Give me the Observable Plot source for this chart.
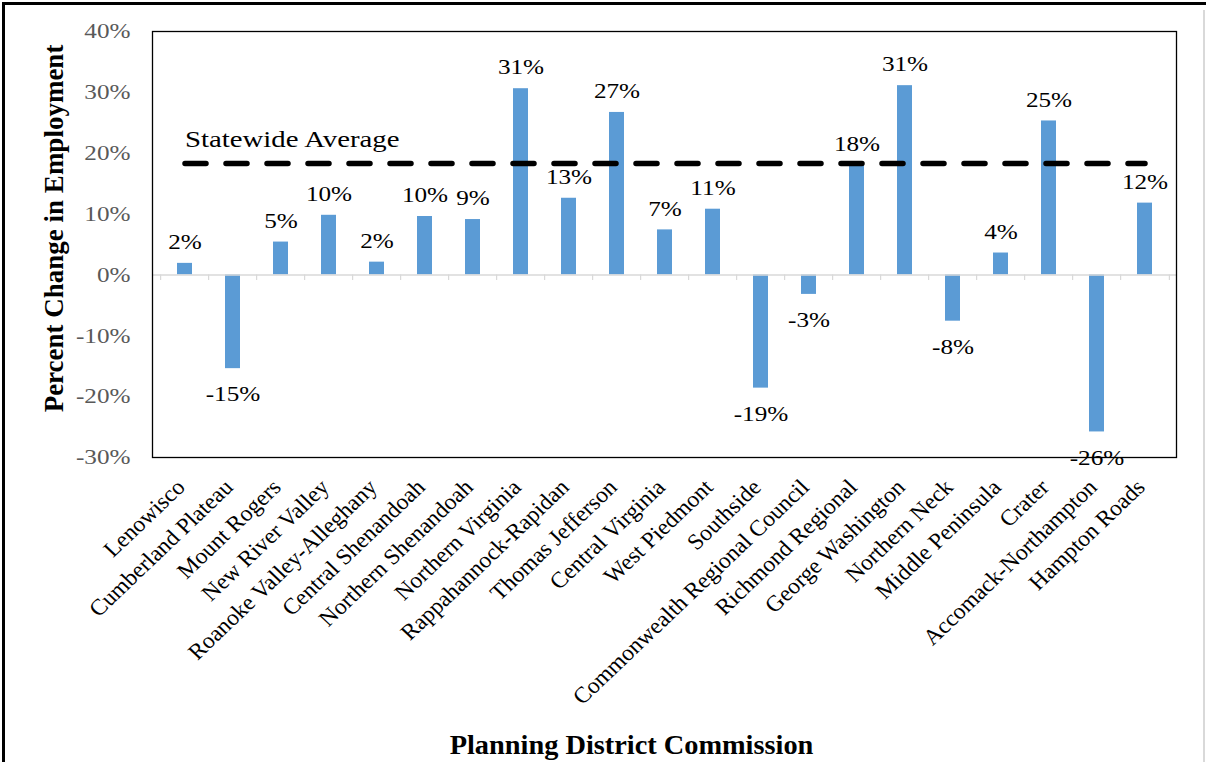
<!DOCTYPE html>
<html>
<head>
<meta charset="utf-8">
<script src="https://cdn.jsdelivr.net/npm/d3@7"></script>
<script src="https://cdn.jsdelivr.net/npm/@observablehq/plot@0.6"></script>
<style>
  html, body { margin: 0; padding: 0; background: #fff; }
  #wrap { position: relative; width: 1207px; height: 762px; overflow: hidden; }
  #border { position: absolute; left: 2px; top: 2px; width: 1201px; height: 800px; border-left: 3px solid #000; border-top: 3px solid #000; pointer-events: none; }
  #grid { position: absolute; left: 1203px; top: 10px; width: 2px; height: 760px; background: #d9d9d9; pointer-events: none; }
  #chart svg, #chart svg text, #chart svg g { font-family: "Liberation Serif", "DejaVu Serif", serif !important; }
</style>
</head>
<body>
<div id="wrap"><div id="chart"></div><div id="border"></div><div id="grid"></div></div>
<script>
const districts = ["Lenowisco","Cumberland Plateau","Mount Rogers","New River Valley","Roanoke Valley-Alleghany","Central Shenandoah","Northern Shenandoah","Northern Virginia","Rappahannock-Rapidan","Thomas Jefferson","Central Virginia","West Piedmont","Southside","Commonwealth Regional Council","Richmond Regional","George Washington","Northern Neck","Middle Peninsula","Crater","Accomack-Northampton","Hampton Roads"];
const changes = [1.9, -15.4, 5.4, 9.8, 2.1, 9.6, 9.1, 30.6, 12.6, 26.7, 7.4, 10.8, -18.6, -3.2, 18.1, 31.1, -7.6, 3.6, 25.3, -25.8, 11.8];
const statewideAverage = 18.3;
const yTicks = [-30, -20, -10, 0, 10, 20, 30, 40];

const data = districts.map((d, i) => ({district: d, value: changes[i]}));
const pos = data.filter(d => d.value >= 0);
const neg = data.filter(d => d.value < 0);
const lbl = d => Math.round(d.value) + "%";
const step = (1176 - 152) / districts.length;

const chart = Plot.plot({
  width: 1207,
  height: 762,
  marginLeft: 152,
  marginRight: 31,
  marginTop: 31,
  marginBottom: 305,
  style: {background: "transparent"},
  x: {type: "band", domain: districts, paddingInner: 0.69, paddingOuter: 0.345, align: 0.5},
  y: {domain: [-30, 40]},
  marks: [
    Plot.barY(data, {x: "district", y: "value", fill: "#5b9bd5"}),
    Plot.ruleY([0], {stroke: "#d9d9d9", strokeWidth: 1.5}),
    Plot.ruleX(districts, {x: d => d, y1: 0, y2: -0.9, dx: -step / 2, stroke: "#d9d9d9", strokeWidth: 1.2}),
    Plot.ruleX([districts[districts.length - 1]], {x: d => d, y1: 0, y2: -0.9, dx: step / 2, stroke: "#d9d9d9", strokeWidth: 1.2}),
    Plot.lineY(districts, {x: d => d, y: () => statewideAverage, stroke: "#000", strokeWidth: 5.5, strokeDasharray: "21,20"}),
    Plot.text([districts[0]], {x: d => d, y: () => statewideAverage, text: () => "Statewide Average", textAnchor: "start", dy: -24, fontSize: 24, fill: "#000", className: "stretch12"}),
    Plot.text(pos, {x: "district", y: "value", text: lbl, dy: -21, fontSize: 21, fill: "#000", className: "stretch12"}),
    Plot.text(neg, {x: "district", y: "value", text: lbl, dy: 26, fontSize: 21, fill: "#000", className: "stretch12"}),
    Plot.frame({stroke: "#000", strokeWidth: 1.3}),
    Plot.axisY({ticks: yTicks, tickFormat: d => d + "%", tickSize: 0, tickPadding: 22, label: null, fontSize: 21, color: "#595959", className: "stretch12"}),
    Plot.axisX({tickSize: 0, tickPadding: 16, tickRotate: -45, label: null, fontSize: 22.5, color: "#000", dx: -4, dy: 10, className: "stretch105"}),
    Plot.text(["Percent Change in Employment"], {frameAnchor: "left", textAnchor: "middle", rotate: -90, dx: -98, dy: -16, fontSize: 27, fontWeight: "bold", fill: "#000"}),
    Plot.text(["Planning District Commission"], {frameAnchor: "bottom", textAnchor: "middle", dx: -33, dy: 296, fontSize: 27, fontWeight: "bold", fill: "#000", className: "stretch105"})
  ]
});

// Widen glyphs horizontally about each text's anchor, as in the reference rendering.
function widen(sel, s) {
  chart.querySelectorAll(sel).forEach(t => {
    const tr = t.getAttribute("transform") || "";
    const m = tr.match(/^\s*translate\(([^)]*)\)(.*)$/);
    if (m) {
      t.setAttribute("transform", `translate(${m[1]}) scale(${s},1)${m[2]}`);
    } else {
      const x = +(t.getAttribute("x") || 0), y = +(t.getAttribute("y") || 0);
      t.setAttribute("x", 0);
      t.setAttribute("y", 0);
      t.setAttribute("transform", `translate(${x},${y}) scale(${s},1) ${tr}`);
    }
  });
}
widen(".stretch12 text", 1.2);
widen(".stretch105 text", 1.05);
document.getElementById("chart").appendChild(chart);
</script>
</body>
</html>
